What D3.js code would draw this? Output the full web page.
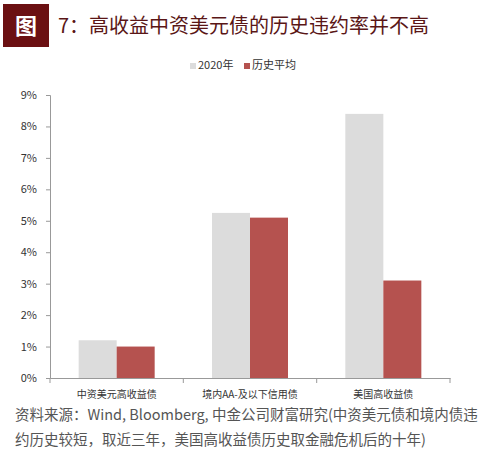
<!DOCTYPE html>
<html><head><meta charset="utf-8">
<script src="https://cdn.jsdelivr.net/npm/d3@7"></script>
<style>body{margin:0;background:#fff}text{font-family:"Noto Sans CJK SC",sans-serif}</style>
</head><body><svg width="499" height="457"></svg>
<script>
var categories = ["中资美元高收益债", "境内AA-及以下信用债", "美国高收益债"];
var series = ["2020年", "历史平均"];
var values2020 = [1.2, 5.25, 8.4];
var valuesHist = [1.0, 5.1, 3.1];
var yTicks = [0, 1, 2, 3, 4, 5, 6, 7, 8, 9];
var colors = ["#dcdcdc", "#b5524f"];

var svg = d3.select("svg");
svg.append("rect").attr("x", 3).attr("y", 4).attr("width", 46).attr("height", 43).attr("fill", "#6b1012");
svg.append("text").attr("x", 26).attr("y", 34).attr("text-anchor", "middle").attr("fill", "#fff")
  .attr("font-size", 22).attr("font-weight", "bold").text("图");
svg.append("text").attr("x", 58).attr("y", 33).attr("fill", "#5a1616").attr("font-size", 20).text("7：高收益中资美元债的历史违约率并不高");

// legend
var lg = svg.append("g").attr("transform", "translate(190,67)");
series.forEach(function (s, i) {
  var x = i * 54;
  lg.append("rect").attr("x", x).attr("y", -4).attr("width", 6).attr("height", 6).attr("fill", colors[i]);
  lg.append("text").attr("x", x + 8).attr("y", 2).attr("font-size", 11).attr("fill", "#333").text(s);
});

var x = d3.scaleBand().domain(categories).range([50, 450]);
var y = d3.scaleLinear().domain([0, 9]).range([378, 95]);

var ax = svg.append("g").attr("transform", "translate(0,378)")
  .call(d3.axisBottom(x).tickSizeOuter(0).tickSize(0).tickFormat(""));
ax.selectAll("path").attr("stroke", "#999");
svg.append("g").selectAll("line").data([50, 183.3, 316.7, 450]).enter().append("line")
  .attr("x1", function (d) { return d; }).attr("x2", function (d) { return d; })
  .attr("y1", 378).attr("y2", 383).attr("stroke", "#999");
svg.selectAll(".cat").data(categories).enter().append("text")
  .attr("x", function (d) { return x(d) + x.bandwidth() / 2; }).attr("y", 398)
  .attr("text-anchor", "middle").attr("font-size", 10).attr("fill", "#333").text(function (d) { return d; });

var ay = svg.append("g").attr("transform", "translate(50,0)")
  .call(d3.axisLeft(y).tickValues(yTicks).tickSize(4).tickFormat(function (d) { return d + "%"; }));
ay.selectAll("path").attr("stroke", "#999");
ay.selectAll("line").attr("stroke", "#999");
ay.selectAll("text").attr("font-size", 11).attr("fill", "#333").attr("dx", "-6");

var bw = 38;
[values2020, valuesHist].forEach(function (vals, s) {
  svg.append("g").selectAll("rect").data(vals).enter().append("rect")
    .attr("x", function (d, i) { return x(categories[i]) + x.bandwidth() / 2 - bw + s * bw; })
    .attr("y", function (d) { return y(d); })
    .attr("width", bw).attr("height", function (d) { return 378 - y(d); })
    .attr("fill", colors[s]);
});

svg.append("text").attr("x", 15).attr("y", 420).attr("font-size", 14.5).attr("fill", "#555")
  .text("资料来源：Wind, Bloomberg, 中金公司财富研究(中资美元债和境内债违");
svg.append("text").attr("x", 15).attr("y", 445).attr("font-size", 14.5).attr("fill", "#555")
  .text("约历史较短，取近三年，美国高收益债历史取金融危机后的十年)");
</script></body></html>
